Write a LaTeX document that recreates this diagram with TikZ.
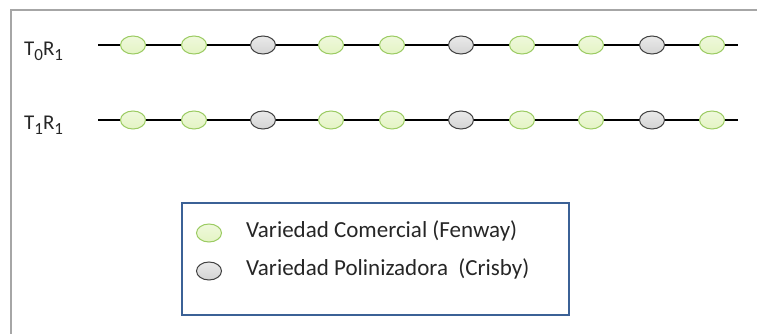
\documentclass[tikz,border=0pt]{standalone}
\usepackage{fontspec}
\setmainfont{Carlito}
\usepackage{xcolor}
\usetikzlibrary{positioning,calc,shapes.geometric}

\definecolor{leafgreen}{HTML}{9BCB62}
\definecolor{leaffill}{HTML}{E4F4C4}
\definecolor{polgray}{HTML}{404040}
\definecolor{polfill}{HTML}{D4D4D4}
\definecolor{legendblue}{HTML}{3B6196}

\newcommand{\lowidx}[1]{\raisebox{-0.22em}{\fontsize{17}{20}\selectfont #1}}

\begin{document}
\begin{tikzpicture}[x=1pt, y=-1pt,
    every node/.style={font=\fontsize{21}{24}\selectfont, text=black!85},
    comercial/.style={ellipse, draw=leafgreen, line width=1pt, top color=leaffill!60, bottom color=leaffill,
        minimum width=25pt, minimum height=18pt, inner sep=0pt},
    polinizadora/.style={ellipse, draw=polgray, line width=1pt, top color=polfill!50, bottom color=polfill,
        minimum width=25pt, minimum height=18pt, inner sep=0pt}]
        \useasboundingbox (0,0) rectangle (757,334);

        % Outer frame (only left and top edges show)
        \draw[gray!70, line width=1.5pt] (11,334) -- (11,10) -- (757,10);

        % Rows
        \coordinate (r0s) at (98,45);
        \coordinate (r0e) at (738,45);
        \coordinate (r1s) at (98,120);
        \coordinate (r1e) at (738,120);
        \draw[line width=1.5pt] (r0s) -- (r0e);
        \draw[line width=1.5pt] (r1s) -- (r1e);

        % Row labels
        \node[anchor=base west, inner sep=0pt] (t0r1) at (24,56) {T\lowidx{0}R\lowidx{1}};
        \node[anchor=base west, inner sep=0pt] (t1r1) at (24,130) {T\lowidx{1}R\lowidx{1}};

        % Plants
        \foreach \x/\kind [count=\i] in {133/comercial, 194/comercial, 263/polinizadora, 331/comercial,
            392/comercial, 461/polinizadora, 522/comercial, 591/comercial, 652/polinizadora, 712/comercial} {
            \node[\kind] (p0-\i) at (\x,45) {};
            \node[\kind] (p1-\i) at (\x,120) {};
        }

        % Legend
        \node[draw=legendblue, line width=1.5pt, minimum width=387pt, minimum height=112pt,
            anchor=north west] (legend) at (181,202) {};
        \node[comercial] (lc) at (209,233) {};
        \node[polinizadora] (lp) at (209,271) {};
        \node[anchor=base west, inner sep=0pt, font=\fontsize{23}{26}\selectfont] (lctext) at (246,237.5)
            {Variedad Comercial (Fenway)};
        \node[anchor=base west, inner sep=0pt, font=\fontsize{23}{26}\selectfont] (lptext) at (246,275.5)
            {Variedad Polinizadora\ \ (Crisby)};
    \end{tikzpicture}
\end{document}
